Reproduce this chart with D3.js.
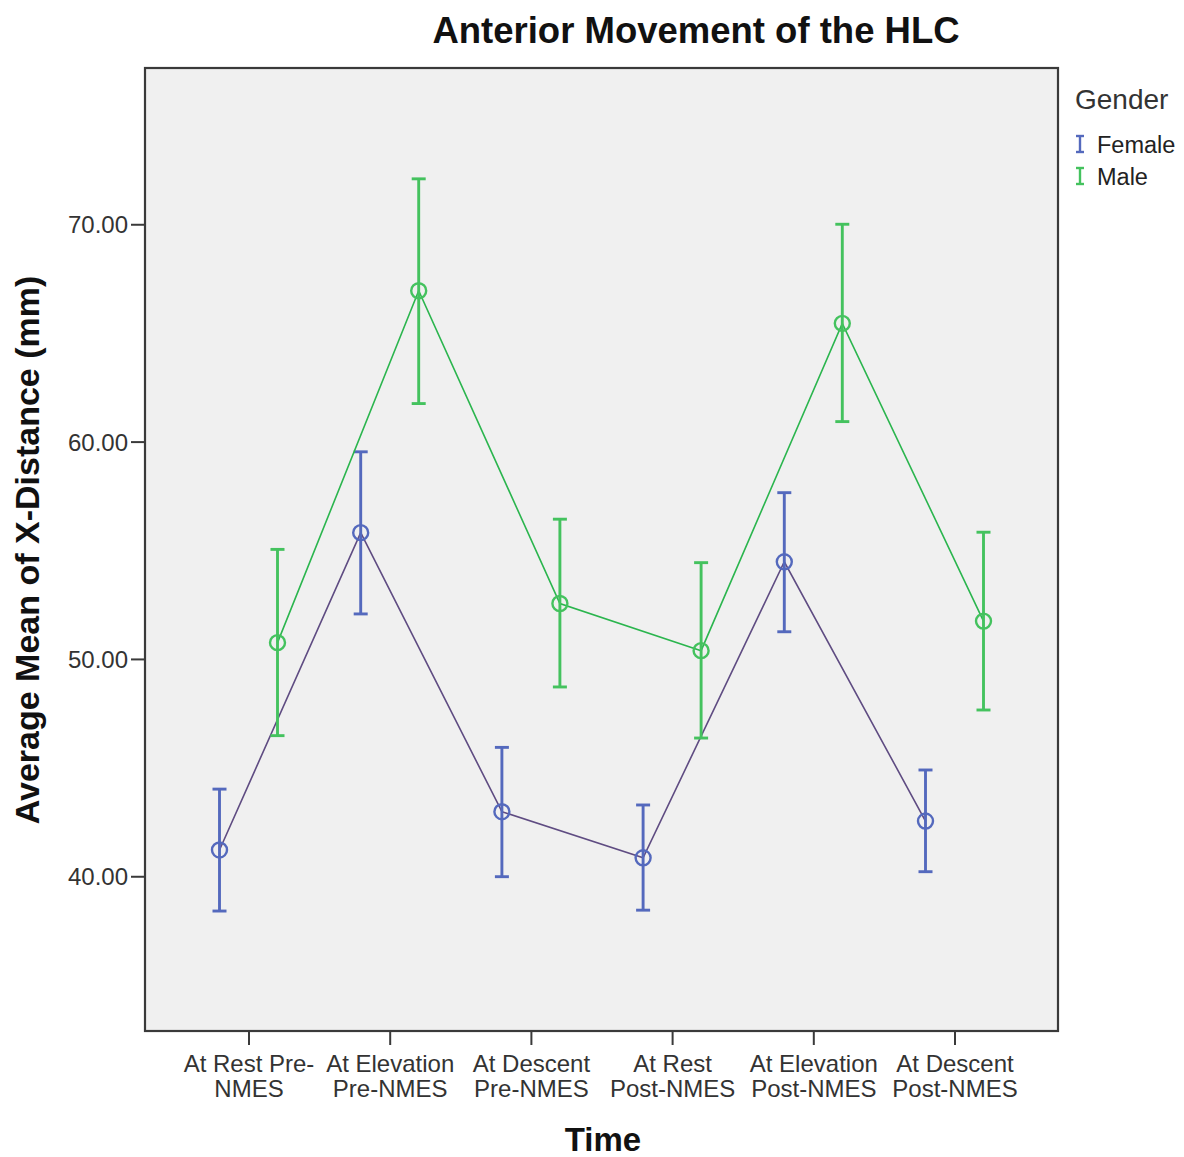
<!DOCTYPE html>
<html>
<head>
<meta charset="utf-8">
<script src="https://cdn.jsdelivr.net/npm/d3@7"></script>
<style>
  html, body { margin: 0; padding: 0; background: #ffffff; }
  svg { display: block; }
  text { font-family: "Liberation Sans", Arial, sans-serif; }
</style>
</head>
<body>
<div id="chart"></div>
<script>
// ---- Data ----
const categories = [
  "At Rest Pre-\nNMES",
  "At Elevation\nPre-NMES",
  "At Descent\nPre-NMES",
  "At Rest\nPost-NMES",
  "At Elevation\nPost-NMES",
  "At Descent\nPost-NMES"
];
const genders = ["Female", "Male"];

const femaleMean = [41.21, 55.81, 42.97, 40.85, 54.47, 42.54];
const femaleLow  = [38.40, 52.07, 39.98, 38.44, 51.25, 40.21];
const femaleHigh = [44.01, 59.53, 45.93, 43.28, 57.65, 44.89];

const maleMean = [50.75, 66.94, 52.55, 50.38, 65.44, 51.74];
const maleLow  = [46.47, 61.75, 48.71, 46.36, 60.92, 47.65];
const maleHigh = [55.04, 72.09, 56.43, 54.43, 70.00, 55.83];

const yTicks = [40, 50, 60, 70];

const titleText = "Anterior Movement of the HLC";
const xTitle = "Time";
const yTitle = "Average Mean of X-Distance (mm)";
const legendTitle = "Gender";

// ---- Layout ----
const W = 1184, H = 1157;
const plot = { left: 145, right: 1058, top: 68, bottom: 1031 };

const colors = {
  Female: { bar: "#5469bd", line: "#5f4c82" },
  Male:   { bar: "#44c25e", line: "#2bb54e" }
};

const svg = d3.select("#chart").append("svg")
  .attr("width", W).attr("height", H);

const x = d3.scalePoint().domain(categories)
  .range([plot.left, plot.right]).padding(0.733);
const offset = d3.scalePoint().domain(genders).range([-29, 29]);
const y = d3.scaleLinear().domain([32.88, 77.19]).range([plot.bottom, plot.top]);

// plot background
svg.append("rect")
  .attr("x", plot.left).attr("y", plot.top)
  .attr("width", plot.right - plot.left).attr("height", plot.bottom - plot.top)
  .attr("fill", "#f0f0f0");

// Series
const series = [
  { name: "Female", mean: femaleMean, low: femaleLow, high: femaleHigh },
  { name: "Male", mean: maleMean, low: maleLow, high: maleHigh }
];

const gData = svg.append("g");
series.forEach(s => {
  const pts = categories.map((c, i) => ({
    cx: x(c) + offset(s.name), m: s.mean[i], lo: s.low[i], hi: s.high[i]
  }));
  const line = d3.line().x(d => d.cx).y(d => y(d.m));
  gData.append("path").datum(pts)
    .attr("d", line).attr("fill", "none")
    .attr("stroke", colors[s.name].line).attr("stroke-width", 1.6);

  const eb = gData.append("g").attr("stroke", colors[s.name].bar)
    .attr("stroke-width", 2.9).attr("fill", "none");
  pts.forEach(d => {
    eb.append("line").attr("x1", d.cx).attr("x2", d.cx)
      .attr("y1", y(d.lo)).attr("y2", y(d.hi));
    eb.append("line").attr("x1", d.cx - 7).attr("x2", d.cx + 7)
      .attr("y1", y(d.lo)).attr("y2", y(d.lo));
    eb.append("line").attr("x1", d.cx - 7).attr("x2", d.cx + 7)
      .attr("y1", y(d.hi)).attr("y2", y(d.hi));
  });
  gData.append("g").selectAll("circle").data(pts).join("circle")
    .attr("cx", d => d.cx).attr("cy", d => y(d.m)).attr("r", 7.5)
    .attr("fill", "none").attr("stroke", colors[s.name].bar).attr("stroke-width", 2.4);
});

// frame
svg.append("rect")
  .attr("x", plot.left).attr("y", plot.top)
  .attr("width", plot.right - plot.left).attr("height", plot.bottom - plot.top)
  .attr("fill", "none").attr("stroke", "#3a3a3a").attr("stroke-width", 2.2);

// Y axis
const yAxis = svg.append("g").attr("transform", `translate(${plot.left},0)`)
  .call(d3.axisLeft(y).tickValues(yTicks).tickFormat(d3.format(".2f"))
    .tickSize(14).tickPadding(3));
yAxis.select(".domain").remove();
yAxis.selectAll(".tick line").attr("stroke", "#3a3a3a").attr("stroke-width", 2);
yAxis.selectAll(".tick text").attr("fill", "#333").style("font-size", "24px")
  .style("font-family", "'Liberation Sans', Arial, sans-serif").attr("dy", "0.36em");

// X axis
const xAxis = svg.append("g").attr("transform", `translate(0,${plot.bottom})`)
  .call(d3.axisBottom(x).tickSize(14).tickFormat(""));
xAxis.select(".domain").remove();
xAxis.selectAll(".tick line").attr("stroke", "#3a3a3a").attr("stroke-width", 2);
xAxis.selectAll(".tick").each(function(d) {
  const t = d3.select(this).append("text")
    .attr("fill", "#333").attr("text-anchor", "middle")
    .style("font-size", "24px");
  d.split("\n").forEach((ln, i) => {
    t.append("tspan").attr("x", 0).attr("y", 41 + i * 25).text(ln);
  });
});

// Titles
svg.append("text").attr("x", 696).attr("y", 43)
  .attr("text-anchor", "middle").style("font-size", "36.5px").style("font-weight", "bold")
  .attr("fill", "#111").text(titleText);
svg.append("text").attr("x", 603).attr("y", 1151)
  .attr("text-anchor", "middle").style("font-size", "33px").style("font-weight", "bold")
  .attr("fill", "#111").text(xTitle);
svg.append("text").attr("transform", "translate(39,550) rotate(-90)")
  .attr("text-anchor", "middle").style("font-size", "34px").style("font-weight", "bold")
  .attr("fill", "#111").text(yTitle);

// Legend
const lg = svg.append("g");
lg.append("text").attr("x", 1075).attr("y", 109)
  .style("font-size", "28px").attr("fill", "#333").text(legendTitle);
genders.forEach((gname, i) => {
  const cy = 144 + i * 32;
  const g = lg.append("g").attr("stroke", colors[gname].bar).attr("stroke-width", 2.4);
  g.append("line").attr("x1", 1080).attr("x2", 1080).attr("y1", cy - 8).attr("y2", cy + 8);
  g.append("line").attr("x1", 1076).attr("x2", 1084).attr("y1", cy - 8).attr("y2", cy - 8);
  g.append("line").attr("x1", 1076).attr("x2", 1084).attr("y1", cy + 8).attr("y2", cy + 8);
  lg.append("text").attr("x", 1097).attr("y", cy + 9)
    .style("font-size", "23.5px").attr("fill", "#222").text(gname);
});
</script>
</body>
</html>
